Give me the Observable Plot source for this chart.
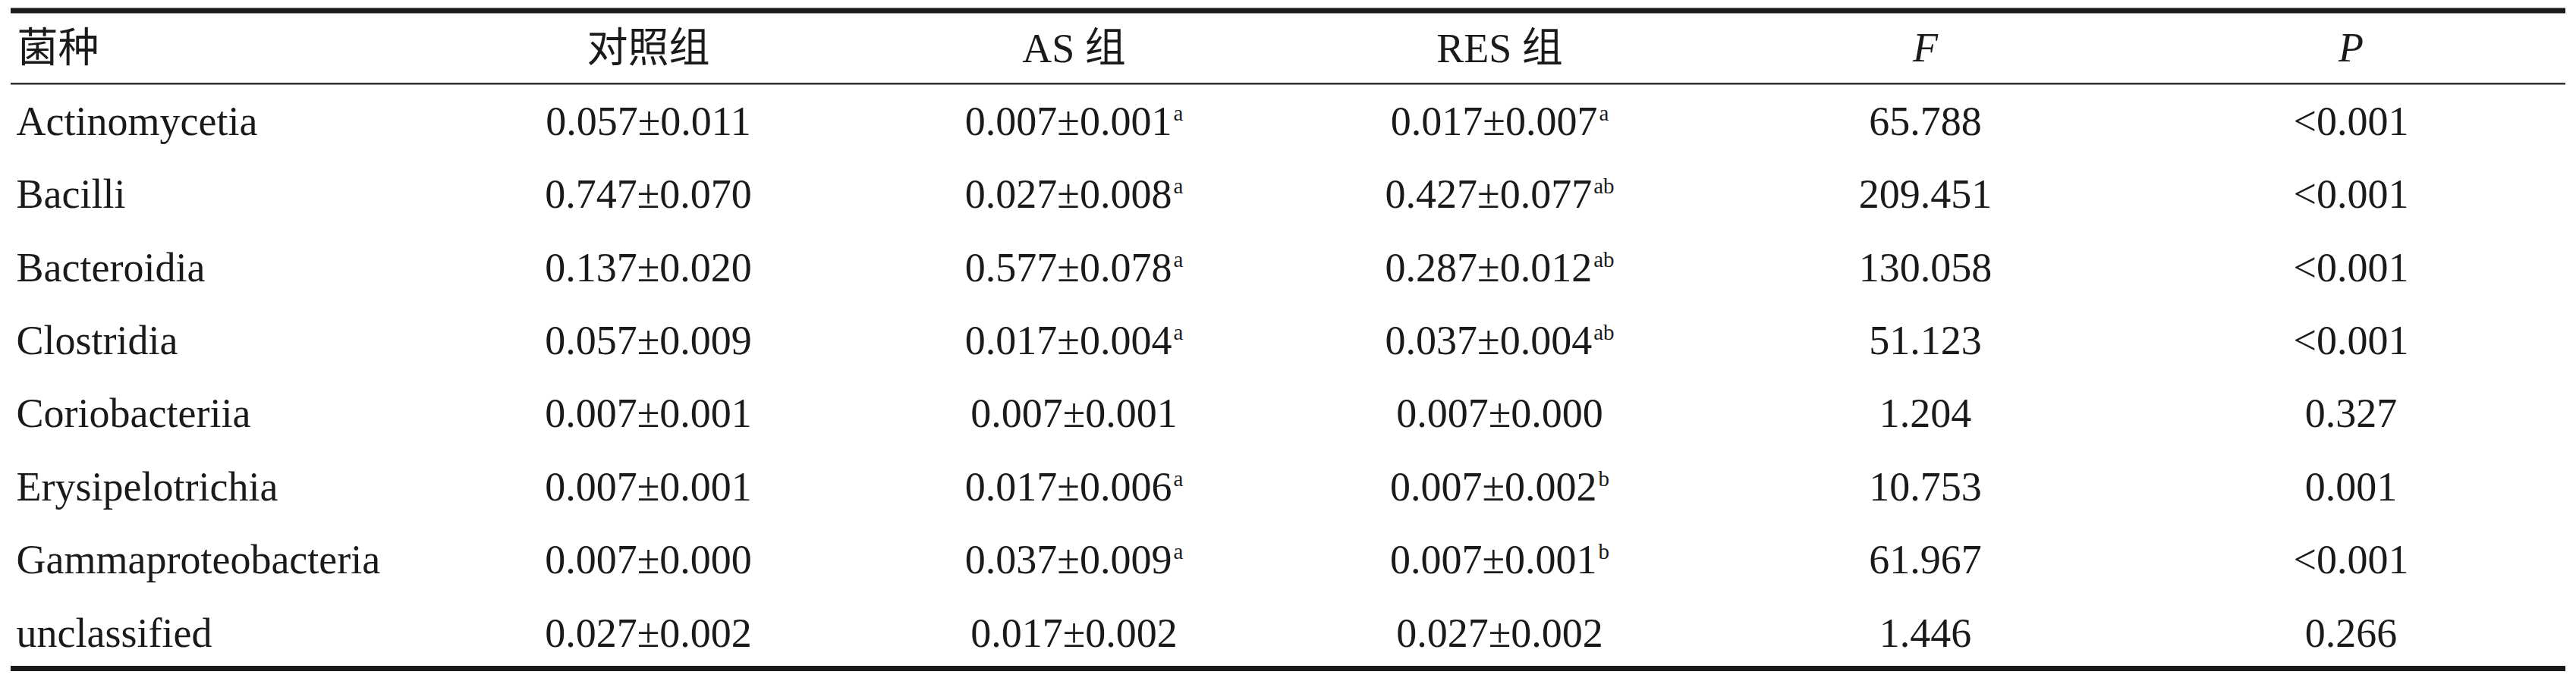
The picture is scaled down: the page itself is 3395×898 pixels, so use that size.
<!DOCTYPE html>
<html>
<head>
<meta charset="utf-8">
<script src="https://cdn.jsdelivr.net/npm/d3@7"></script>
<script src="https://cdn.jsdelivr.net/npm/@observablehq/plot@0.6"></script>
<style>
  html, body { margin: 0; padding: 0; background: #ffffff; }
  #chart svg { display: block; }
</style>
</head>
<body>
<div id="chart"></div>
<script>
// ---- Table content ----
const nameHeader = "菌种";
const columns = ["对照组", "AS 组", "RES 组", "F", "P"];
const italicColumns = ["F", "P"];
const species = ["Actinomycetia", "Bacilli", "Bacteroidia", "Clostridia", "Coriobacteriia", "Erysipelotrichia", "Gammaproteobacteria", "unclassified"];
const controlGroup = ["0.057±0.011", "0.747±0.070", "0.137±0.020", "0.057±0.009", "0.007±0.001", "0.007±0.001", "0.007±0.000", "0.027±0.002"];
const asGroup = ["0.007±0.001", "0.027±0.008", "0.577±0.078", "0.017±0.004", "0.007±0.001", "0.017±0.006", "0.037±0.009", "0.017±0.002"];
const asSup = ["a", "a", "a", "a", "", "a", "a", ""];
const resGroup = ["0.017±0.007", "0.427±0.077", "0.287±0.012", "0.037±0.004", "0.007±0.000", "0.007±0.002", "0.007±0.001", "0.027±0.002"];
const resSup = ["a", "ab", "ab", "ab", "", "b", "b", ""];
const fValues = ["65.788", "209.451", "130.058", "51.123", "1.204", "10.753", "61.967", "1.446"];
const pValues = ["<0.001", "<0.001", "<0.001", "<0.001", "0.327", "0.001", "<0.001", "0.266"];

// ---- Build cells ----
const SUP = "^";
const cells = [];
species.forEach((s, i) => {
  const r = i + 1.5;
  cells.push({col: columns[0], row: r, label: controlGroup[i]});
  cells.push({col: columns[1], row: r, label: asGroup[i] + (asSup[i] ? SUP + asSup[i] : "")});
  cells.push({col: columns[2], row: r, label: resGroup[i] + (resSup[i] ? SUP + resSup[i] : "")});
  cells.push({col: columns[3], row: r, label: fValues[i]});
  cells.push({col: columns[4], row: r, label: pValues[i]});
});
const names = species.map((s, i) => ({row: i + 1.5, label: s}));
const headers = columns.map(c => ({col: c, row: 0.5, label: c}));

const ink = "#1a1a1a";
const fontFamily = "'Liberation Serif', 'Times New Roman', 'Noto Sans CJK SC', serif";

const svg = Plot.plot({
  width: 3395,
  height: 898,
  marginLeft: 14,
  marginRight: 14,
  marginTop: 0,
  marginBottom: 0,
  style: {background: "#ffffff", color: ink, fontFamily},
  x: {type: "point", domain: columns, range: [852, 3099], padding: 0, axis: null},
  y: {type: "linear", domain: [0, species.length + 1], range: [13.5, 881], axis: null},
  marks: [
    Plot.ruleY([0, species.length + 1], {stroke: ink, strokeWidth: 7}),
    Plot.ruleY([1], {stroke: ink, strokeWidth: 2.2}),
    // header
    Plot.text([{label: nameHeader, row: 0.5}], {
      y: "row", text: "label", frameAnchor: "left", textAnchor: "start", dx: 8, dy: 3,
      fontSize: 54, fill: ink, fontFamily: "'Noto Sans CJK SC', sans-serif"
    }),
    Plot.text(headers.filter(h => !italicColumns.includes(h.col)), {
      x: "col", y: "row", text: "label", textAnchor: "middle", dy: 3,
      fontSize: 54, fill: ink
    }),
    Plot.text(headers.filter(h => italicColumns.includes(h.col)), {
      x: "col", y: "row", text: "label", textAnchor: "middle", dy: 2,
      fontSize: 54, fill: ink, fontStyle: "italic"
    }),
    // species names
    Plot.text(names, {
      y: "row", text: "label", frameAnchor: "left", textAnchor: "start", dx: 7, dy: 2,
      fontSize: 54, fill: ink
    }),
    // values
    Plot.text(cells, {
      x: "col", y: "row", text: "label", textAnchor: "middle", dy: 2,
      fontSize: 54, fill: ink
    })
  ]
});

// superscripts: split "main^sup" into text + raised tspan
svg.querySelectorAll("text").forEach(t => {
  const s = t.textContent;
  if (s.includes(SUP)) {
    const [main, sup] = s.split(SUP);
    t.textContent = main;
    const ts = document.createElementNS("http://www.w3.org/2000/svg", "tspan");
    ts.setAttribute("dy", "-19");
    ts.setAttribute("dx", "2");
    ts.setAttribute("font-size", "29");
    ts.textContent = sup;
    t.appendChild(ts);
  }
});

document.getElementById("chart").appendChild(svg);
</script>
</body>
</html>
